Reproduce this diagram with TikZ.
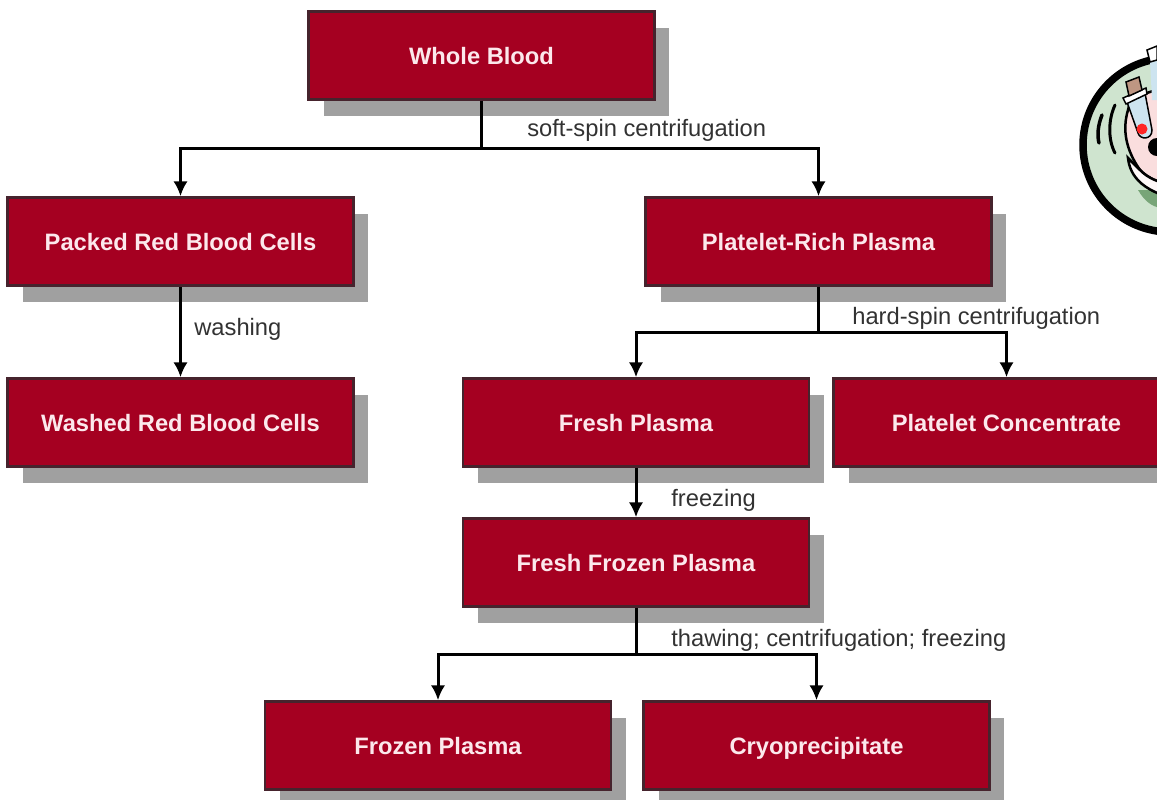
\documentclass[tikz,border=0pt]{standalone}
\usepackage{fontspec}
\setmainfont{Liberation Sans}
\usetikzlibrary{arrows.meta}
\usetikzlibrary{shadows}
\definecolor{boxred}{RGB}{165,0,33}
\definecolor{boxline}{RGB}{70,35,45}
\definecolor{boxshadow}{RGB}{160,160,160}
\definecolor{boxtext}{RGB}{252,232,236}
\definecolor{labeltext}{RGB}{50,50,50}
\definecolor{dishgreen}{RGB}{207,228,207}
\definecolor{dishdark}{RGB}{120,165,120}
\definecolor{bowlpink}{RGB}{250,222,222}
\definecolor{tubeblue}{RGB}{205,228,240}
\definecolor{capbrown}{RGB}{190,150,130}

\begin{document}
\begin{tikzpicture}[x=0.02cm,y=-0.02cm,
	box/.style={draw=boxline,line width=0.05cm,fill=boxred,text=boxtext,minimum width=6.92cm,minimum height=1.76cm,text height=0.36cm,text depth=0.02cm,font=\fontsize{13.5}{16}\selectfont\bfseries,general shadow={fill=boxshadow,shadow xshift=0.3cm,shadow yshift=-0.33cm}},
	steplabel/.style={text=labeltext,anchor=west,inner sep=0pt,font=\fontsize{13.5}{16}\selectfont},
	link/.style={line width=0.06cm,-{Latex[length=0.3cm,width=0.29cm]}},
	stem/.style={line width=0.06cm}]
	\useasboundingbox (0,0) rectangle (1157,799);
	\clip (0,0) rectangle (1157,799);
	% centrifuge icon, top right
	\draw[line width=0.15cm,fill=dishgreen] (1170,145) circle (87);
	\fill[dishdark] (1138,190) .. controls (1145,202) and (1152,206) .. (1160,208) -- (1160,190) -- cycle;
	\draw[line width=0.05cm,fill=bowlpink] (1190,85) .. controls (1150,88) and (1128,98) .. (1128,110) .. controls (1122,130) and (1126,150) .. (1140,170) .. controls (1148,178) and (1158,184) .. (1190,188) -- cycle;
	\draw[line width=0.05cm,fill=white!80!bowlpink] (1128,158) .. controls (1130,176) and (1142,194) .. (1190,202) -- (1190,188) .. controls (1158,184) and (1148,178) .. (1140,170) -- (1128,158) -- cycle;
	\draw[line width=0.07cm,line cap=round] (1102,115) .. controls (1098,125) and (1097,135) .. (1099,143);
	\draw[line width=0.06cm,line cap=round] (1115,105) .. controls (1108,120) and (1108,140) .. (1115,153);
	\draw[line width=0.03cm,fill=tubeblue] (1127,102) -- (1145,93) -- (1152,130) .. controls (1152,140) and (1140,140) .. (1138,133) -- cycle;
	\fill[red!80!pink] (1142,129) circle (5.5);
	\draw[line width=0.03cm,fill=white] (1123,98) -- (1146,88) -- (1147,94) -- (1126,104) -- cycle;
	\draw[line width=0.03cm,fill=capbrown] (1126,82) -- (1139,77) -- (1142,90) -- (1129,96) -- cycle;
	\fill[tubeblue] (1150,60) -- (1157,60) -- (1157,100) -- (1152,100) -- cycle;
	\draw[line width=0.03cm,fill=white] (1147,50) -- (1157,46) -- (1157,60) -- (1150,62) -- cycle;
	\fill (1157,147) circle (9);
	% boxes
	\node[box] (WB) at (481.5,55.5) {Whole Blood};
	\node[box] (PRBC) at (180.5,241.5) {Packed Red Blood Cells};
	\node[box] (PRP) at (818.5,241.5) {Platelet-Rich Plasma};
	\node[box] (WRBC) at (180.5,422.5) {Washed Red Blood Cells};
	\node[box] (FP) at (636,422.5) {Fresh Plasma};
	\node[box] (PC) at (1006.5,422.5) {Platelet Concentrate};
	\node[box] (FFP) at (636,562.5) {Fresh Frozen Plasma};
	\node[box] (FrP) at (438,745.5) {Frozen Plasma};
	\node[box] (CP) at (816.5,745.5) {Cryoprecipitate};
	% branch points
	\coordinate (J1) at (481.5,148);
	\coordinate (J2) at (818.5,332);
	\coordinate (J3) at (636,654);
	% connectors
	\draw[stem] (WB) -- (J1);
	\draw[link] (J1) -| (PRBC);
	\draw[link] (J1) -| (PRP);
	\draw[link] (PRBC) -- (WRBC);
	\draw[stem] (PRP) -- (J2);
	\draw[link] (J2) -| (FP);
	\draw[link] (J2) -| (PC);
	\draw[link] (FP) -- (FFP);
	\draw[stem] (FFP) -- (J3);
	\draw[link] (J3) -| (FrP);
	\draw[link] (J3) -| (CP);
	% labels
	\node[steplabel] (L1) at (527,130) {soft-spin centrifugation};
	\node[steplabel] (L2) at (194,329) {washing};
	\node[steplabel] (L3) at (852,318) {hard-spin centrifugation};
	\node[steplabel] (L4) at (671,500) {freezing};
	\node[steplabel] (L5) at (671,640) {thawing; centrifugation; freezing};
\end{tikzpicture}
\end{document}
